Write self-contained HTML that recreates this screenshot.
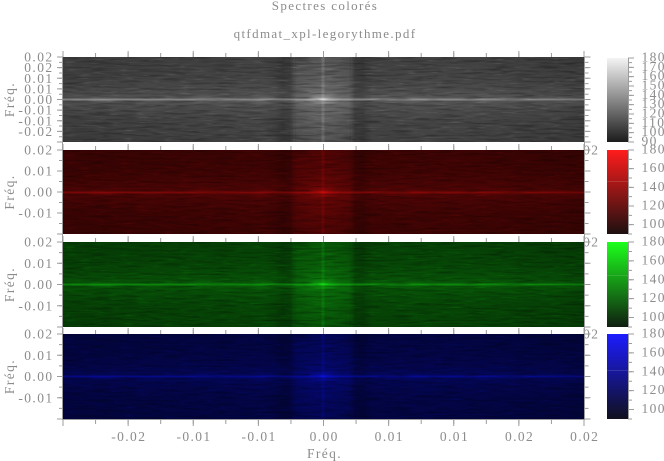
<!DOCTYPE html>
<html><head><meta charset="utf-8">
<style>
html,body{margin:0;padding:0;background:#fff;}
svg{display:block;}
text{font-family:"Liberation Serif",serif;fill:#8c8c8c;font-size:13.5px;letter-spacing:1.4px;}
.t{font-size:13px;letter-spacing:1.35px;}
</style></head><body>
<svg width="664" height="461" viewBox="0 0 664 461" xmlns="http://www.w3.org/2000/svg">
<defs>
  <linearGradient id="hp" x1="0" y1="0" x2="521" y2="0" gradientUnits="userSpaceOnUse">
    <stop offset="0" stop-color="#3b3b3b"/>
    <stop offset="0.115" stop-color="#3d3d3d"/>
    <stop offset="0.288" stop-color="#404040"/>
    <stop offset="0.384" stop-color="#434343"/>
    <stop offset="0.407" stop-color="#3d3d3d"/>
    <stop offset="0.422" stop-color="#343434"/>
    <stop offset="0.436" stop-color="#393939"/>
    <stop offset="0.449" stop-color="#575757"/>
    <stop offset="0.499" stop-color="#636363"/>
    <stop offset="0.549" stop-color="#575757"/>
    <stop offset="0.5605" stop-color="#383838"/>
    <stop offset="0.576" stop-color="#363636"/>
    <stop offset="0.595" stop-color="#424242"/>
    <stop offset="0.768" stop-color="#424242"/>
    <stop offset="0.902" stop-color="#3d3d3d"/>
    <stop offset="1" stop-color="#393939"/>
  </linearGradient>
  <linearGradient id="vg" x1="0" y1="0" x2="0" y2="1">
    <stop offset="0" stop-color="#fff" stop-opacity="0"/>
    <stop offset="0.25" stop-color="#fff" stop-opacity="0.02"/>
    <stop offset="0.42" stop-color="#fff" stop-opacity="0.07"/>
    <stop offset="0.5" stop-color="#fff" stop-opacity="0.12"/>
    <stop offset="0.58" stop-color="#fff" stop-opacity="0.07"/>
    <stop offset="0.75" stop-color="#fff" stop-opacity="0.02"/>
    <stop offset="1" stop-color="#fff" stop-opacity="0"/>
  </linearGradient>
  <linearGradient id="bandv" x1="0" y1="0" x2="0" y2="1">
    <stop offset="0" stop-color="#000" stop-opacity="0.12"/>
    <stop offset="0.5" stop-color="#000" stop-opacity="0"/>
    <stop offset="1" stop-color="#000" stop-opacity="0.12"/>
  </linearGradient>
  <radialGradient id="rg">
    <stop offset="0" stop-color="#fff" stop-opacity="0.75"/>
    <stop offset="0.35" stop-color="#fff" stop-opacity="0.25"/>
    <stop offset="1" stop-color="#fff" stop-opacity="0"/>
  </radialGradient>
  <radialGradient id="rb">
    <stop offset="0" stop-color="#fff" stop-opacity="0.1"/>
    <stop offset="1" stop-color="#fff" stop-opacity="0"/>
  </radialGradient>
  <filter id="nz" x="0" y="0" width="1" height="1" color-interpolation-filters="sRGB">
    <feTurbulence type="fractalNoise" baseFrequency="0.04 0.5" numOctaves="2" seed="7"/>
    <feColorMatrix type="matrix" values="0 0 0 0 0  0 0 0 0 0  0 0 0 0 0  -0.7 0 0 0 0.4"/>
  </filter>
  <filter id="nw" x="0" y="0" width="1" height="1" color-interpolation-filters="sRGB">
    <feTurbulence type="fractalNoise" baseFrequency="0.07 0.6" numOctaves="2" seed="3"/>
    <feColorMatrix type="matrix" values="0 0 0 0 1  0 0 0 0 1  0 0 0 0 1  0 0.35 0 0 -0.2"/>
  </filter>
  <filter id="tr" color-interpolation-filters="sRGB"><feColorMatrix type="matrix" values="0.92 0 0 0 0  0.05 0 0 0 0  0.05 0 0 0 0  0 0 0 1 0"/></filter>
  <filter id="tg" color-interpolation-filters="sRGB"><feColorMatrix type="matrix" values="0.09 0 0 0 0  1.0 0 0 0 0  0.09 0 0 0 0  0 0 0 1 0"/></filter>
  <filter id="tb" color-interpolation-filters="sRGB"><feColorMatrix type="matrix" values="0.04 0 0 0 0  0.07 0 0 0 0  1.0 0 0 0 0  0 0 0 1 0"/></filter>
  <g id="spec">
    <rect width="521" height="85" fill="url(#hp)"/>
    <rect x="232" y="0" width="56" height="85" fill="url(#bandv)"/>
    <rect width="521" height="85" fill="url(#vg)"/>
    <ellipse cx="40" cy="42.5" rx="16" ry="5" fill="url(#rb)"/>
    <ellipse cx="140" cy="42.5" rx="16" ry="5" fill="url(#rb)"/>
    <ellipse cx="200" cy="42.5" rx="16" ry="6" fill="url(#rb)"/>
    <ellipse cx="350" cy="42.5" rx="16" ry="5" fill="url(#rb)"/>
    <ellipse cx="420" cy="42.5" rx="16" ry="5" fill="url(#rb)"/>
    <rect x="0" y="41.5" width="521" height="2" fill="#fff" opacity="0.28"/>
    <rect x="258.5" y="0" width="3" height="85" fill="#fff" opacity="0.12"/>
    <ellipse cx="260" cy="42.5" rx="18" ry="6" fill="url(#rg)"/>
    <rect width="521" height="85" filter="url(#nz)"/>
    <rect width="521" height="85" filter="url(#nw)"/>
  </g>
  <linearGradient id="cgray" x1="0" y1="0" x2="0" y2="1"><stop offset="0" stop-color="#f4f4f4"/><stop offset="1" stop-color="#1c1c1c"/></linearGradient>
  <linearGradient id="cred" x1="0" y1="0" x2="0" y2="1"><stop offset="0" stop-color="#ff1c1c"/><stop offset="1" stop-color="#1e1010"/></linearGradient>
  <linearGradient id="cgrn" x1="0" y1="0" x2="0" y2="1"><stop offset="0" stop-color="#1cff1c"/><stop offset="1" stop-color="#101e10"/></linearGradient>
  <linearGradient id="cblu" x1="0" y1="0" x2="0" y2="1"><stop offset="0" stop-color="#1c1cff"/><stop offset="1" stop-color="#10101e"/></linearGradient>
  <clipPath id="rc"><rect x="584.5" y="0" width="80" height="461"/></clipPath>
</defs>

<!-- titles -->
<text class="t" x="325" y="10" text-anchor="middle">Spectres colorés</text>
<text class="t" x="325" y="38" text-anchor="middle">qtfdmat_xpl-legorythme.pdf</text>

<!-- clipped right labels -->
<g clip-path="url(#rc)" text-anchor="end">
<text x="599.4" y="154.5">0.02</text>
<text x="599.4" y="246.5">0.02</text>
<text x="599.4" y="338.5">0.02</text>
</g>

<!-- panels -->
<use href="#spec" x="63" y="57"/>
<use href="#spec" x="63" y="150" filter="url(#tr)"/>
<use href="#spec" x="63" y="242" filter="url(#tg)"/>
<use href="#spec" x="63" y="334" filter="url(#tb)"/>
<rect x="63" y="234" width="521" height="1" fill="#fff"/>

<g stroke="#9c9c9c" fill="none">
  <line x1="62.5" y1="57" x2="62.5" y2="420"/>
  <line x1="584.5" y1="57" x2="584.5" y2="420"/>
  <line x1="62" y1="419.5" x2="585" y2="419.5"/>
  <line x1="62.5" y1="54" x2="585" y2="54" stroke-width="6" stroke-dasharray="1 64.125"/>
  <line x1="62.5" y1="55" x2="585" y2="55" stroke-width="4" stroke-dasharray="1 31.5625"/>
  <line x1="62.5" y1="147" x2="585" y2="147" stroke-width="6" stroke-dasharray="1 64.125"/>
  <line x1="62.5" y1="148" x2="585" y2="148" stroke-width="4" stroke-dasharray="1 31.5625"/>
  <line x1="62.5" y1="239" x2="585" y2="239" stroke-width="6" stroke-dasharray="1 64.125"/>
  <line x1="62.5" y1="240" x2="585" y2="240" stroke-width="4" stroke-dasharray="1 31.5625"/>
  <line x1="62.5" y1="331" x2="585" y2="331" stroke-width="6" stroke-dasharray="1 64.125"/>
  <line x1="62.5" y1="332" x2="585" y2="332" stroke-width="4" stroke-dasharray="1 31.5625"/>
  <line x1="62.5" y1="422.5" x2="585" y2="422.5" stroke-width="7" stroke-dasharray="1 64.125"/>
  <line x1="62.5" y1="421.5" x2="585" y2="421.5" stroke-width="5" stroke-dasharray="1 31.5625"/>
  <line x1="60" y1="56.5" x2="60" y2="143" stroke-width="6" stroke-dasharray="1 9.625"/>
  <line x1="61" y1="56.5" x2="61" y2="143" stroke-width="4" stroke-dasharray="1 4.3125"/>
  <line x1="60" y1="149.5" x2="60" y2="235" stroke-width="6" stroke-dasharray="1 20"/>
  <line x1="61" y1="149.5" x2="61" y2="235" stroke-width="4" stroke-dasharray="1 9.5"/>
  <line x1="60" y1="241.5" x2="60" y2="328" stroke-width="6" stroke-dasharray="1 20.25"/>
  <line x1="61" y1="241.5" x2="61" y2="328" stroke-width="4" stroke-dasharray="1 9.625"/>
  <line x1="60" y1="333.5" x2="60" y2="420" stroke-width="6" stroke-dasharray="1 20.25"/>
  <line x1="61" y1="333.5" x2="61" y2="420" stroke-width="4" stroke-dasharray="1 9.625"/>
  <line x1="587.5" y1="56.5" x2="587.5" y2="143" stroke-width="6" stroke-dasharray="1 9.625"/>
  <line x1="586.5" y1="56.5" x2="586.5" y2="143" stroke-width="4" stroke-dasharray="1 4.3125"/>
  <line x1="587.5" y1="149.5" x2="587.5" y2="235" stroke-width="6" stroke-dasharray="1 20"/>
  <line x1="586.5" y1="149.5" x2="586.5" y2="235" stroke-width="4" stroke-dasharray="1 9.5"/>
  <line x1="587.5" y1="241.5" x2="587.5" y2="328" stroke-width="6" stroke-dasharray="1 20.25"/>
  <line x1="586.5" y1="241.5" x2="586.5" y2="328" stroke-width="4" stroke-dasharray="1 9.625"/>
  <line x1="587.5" y1="333.5" x2="587.5" y2="420" stroke-width="6" stroke-dasharray="1 20.25"/>
  <line x1="586.5" y1="333.5" x2="586.5" y2="420" stroke-width="4" stroke-dasharray="1 9.625"/>
</g>

<!-- colorbars -->
<rect x="607" y="58" width="21" height="84" fill="url(#cgray)"/>
<rect x="607" y="150" width="21" height="84" fill="url(#cred)"/>
<rect x="607" y="242" width="21" height="85" fill="url(#cgrn)"/>
<rect x="607" y="334" width="21" height="85" fill="url(#cblu)"/>
<rect x="607" y="181" width="21" height="1" fill="#fff" opacity="0.12"/>
<rect x="607" y="275" width="21" height="1" fill="#fff" opacity="0.12"/>
<rect x="607" y="370" width="21" height="1" fill="#fff" opacity="0.12"/>
<g stroke="#9c9c9c" fill="none">
  <line x1="628.5" y1="58" x2="628.5" y2="142"/>
  <line x1="628.5" y1="150" x2="628.5" y2="234"/>
  <line x1="628.5" y1="242" x2="628.5" y2="327"/>
  <line x1="628.5" y1="334" x2="628.5" y2="419"/>
  <line x1="631" y1="57.5" x2="631" y2="143" stroke-width="6" stroke-dasharray="1 8.333"/>
  <line x1="630" y1="57.5" x2="630" y2="143" stroke-width="4" stroke-dasharray="1 3.667"/>
  <line x1="631" y1="149.5" x2="631" y2="235" stroke-width="6" stroke-dasharray="1 17.667"/>
  <line x1="630" y1="149.5" x2="630" y2="235" stroke-width="4" stroke-dasharray="1 8.333"/>
  <line x1="631" y1="241.5" x2="631" y2="328" stroke-width="6" stroke-dasharray="1 17.889"/>
  <line x1="630" y1="241.5" x2="630" y2="328" stroke-width="4" stroke-dasharray="1 8.444"/>
  <line x1="631" y1="333.5" x2="631" y2="420" stroke-width="6" stroke-dasharray="1 17.889"/>
  <line x1="630" y1="333.5" x2="630" y2="420" stroke-width="4" stroke-dasharray="1 8.444"/>
</g>

<!-- left tick labels -->
<g text-anchor="end">
  <text x="53.5" y="61.5">0.02</text>
  <text x="53.5" y="72.1">0.02</text>
  <text x="53.5" y="82.75">0.01</text>
  <text x="53.5" y="93.4">0.01</text>
  <text x="53.5" y="104">0.00</text>
  <text x="53.5" y="114.6">-0.01</text>
  <text x="53.5" y="125.25">-0.01</text>
  <text x="53.5" y="135.9">-0.02</text>

  <text x="53.5" y="154.5">0.02</text>
  <text x="53.5" y="175.5">0.01</text>
  <text x="53.5" y="196.5">0.00</text>
  <text x="53.5" y="217.5">-0.01</text>

  <text x="53.5" y="246.5">0.02</text>
  <text x="53.5" y="267.75">0.01</text>
  <text x="53.5" y="289">0.00</text>
  <text x="53.5" y="310.25">-0.01</text>

  <text x="53.5" y="338.5">0.02</text>
  <text x="53.5" y="359.75">0.01</text>
  <text x="53.5" y="381">0.00</text>
  <text x="53.5" y="402.25">-0.01</text>
</g>

<!-- y axis titles -->
<g text-anchor="middle">
  <text transform="translate(14,99.5) rotate(-90)">Fréq.</text>
  <text transform="translate(14,192) rotate(-90)">Fréq.</text>
  <text transform="translate(14,284.5) rotate(-90)">Fréq.</text>
  <text transform="translate(14,376.5) rotate(-90)">Fréq.</text>
</g>

<!-- x tick labels -->
<g text-anchor="middle">
  <text x="128.8" y="441">-0.02</text>
  <text x="194" y="441">-0.01</text>
  <text x="259.1" y="441">-0.01</text>
  <text x="324.2" y="441">0.00</text>
  <text x="389.3" y="441">0.01</text>
  <text x="454.5" y="441">0.01</text>
  <text x="519.6" y="441">0.02</text>
  <text x="584.7" y="441">0.02</text>
  <text x="324.5" y="458">Fréq.</text>
</g>

<!-- colorbar labels -->
<g>
  <text x="641.5" y="61.5">180</text>
  <text x="641.5" y="70.8">170</text>
  <text x="641.5" y="80.2">160</text>
  <text x="641.5" y="89.5">150</text>
  <text x="641.5" y="98.8">140</text>
  <text x="641.5" y="108.2">130</text>
  <text x="641.5" y="117.5">120</text>
  <text x="641.5" y="126.8">110</text>
  <text x="641.5" y="136.2">100</text>
  <text x="641.5" y="145.5">90</text>

  <text x="641.5" y="153.5">180</text>
  <text x="641.5" y="172.2">160</text>
  <text x="641.5" y="190.8">140</text>
  <text x="641.5" y="209.5">120</text>
  <text x="641.5" y="228.2">100</text>

  <text x="641.5" y="245.5">180</text>
  <text x="641.5" y="264.4">160</text>
  <text x="641.5" y="283.3">140</text>
  <text x="641.5" y="302.2">120</text>
  <text x="641.5" y="321.1">100</text>

  <text x="641.5" y="337.5">180</text>
  <text x="641.5" y="356.4">160</text>
  <text x="641.5" y="375.3">140</text>
  <text x="641.5" y="394.2">120</text>
  <text x="641.5" y="413.1">100</text>
</g>
</svg>
</body></html>
